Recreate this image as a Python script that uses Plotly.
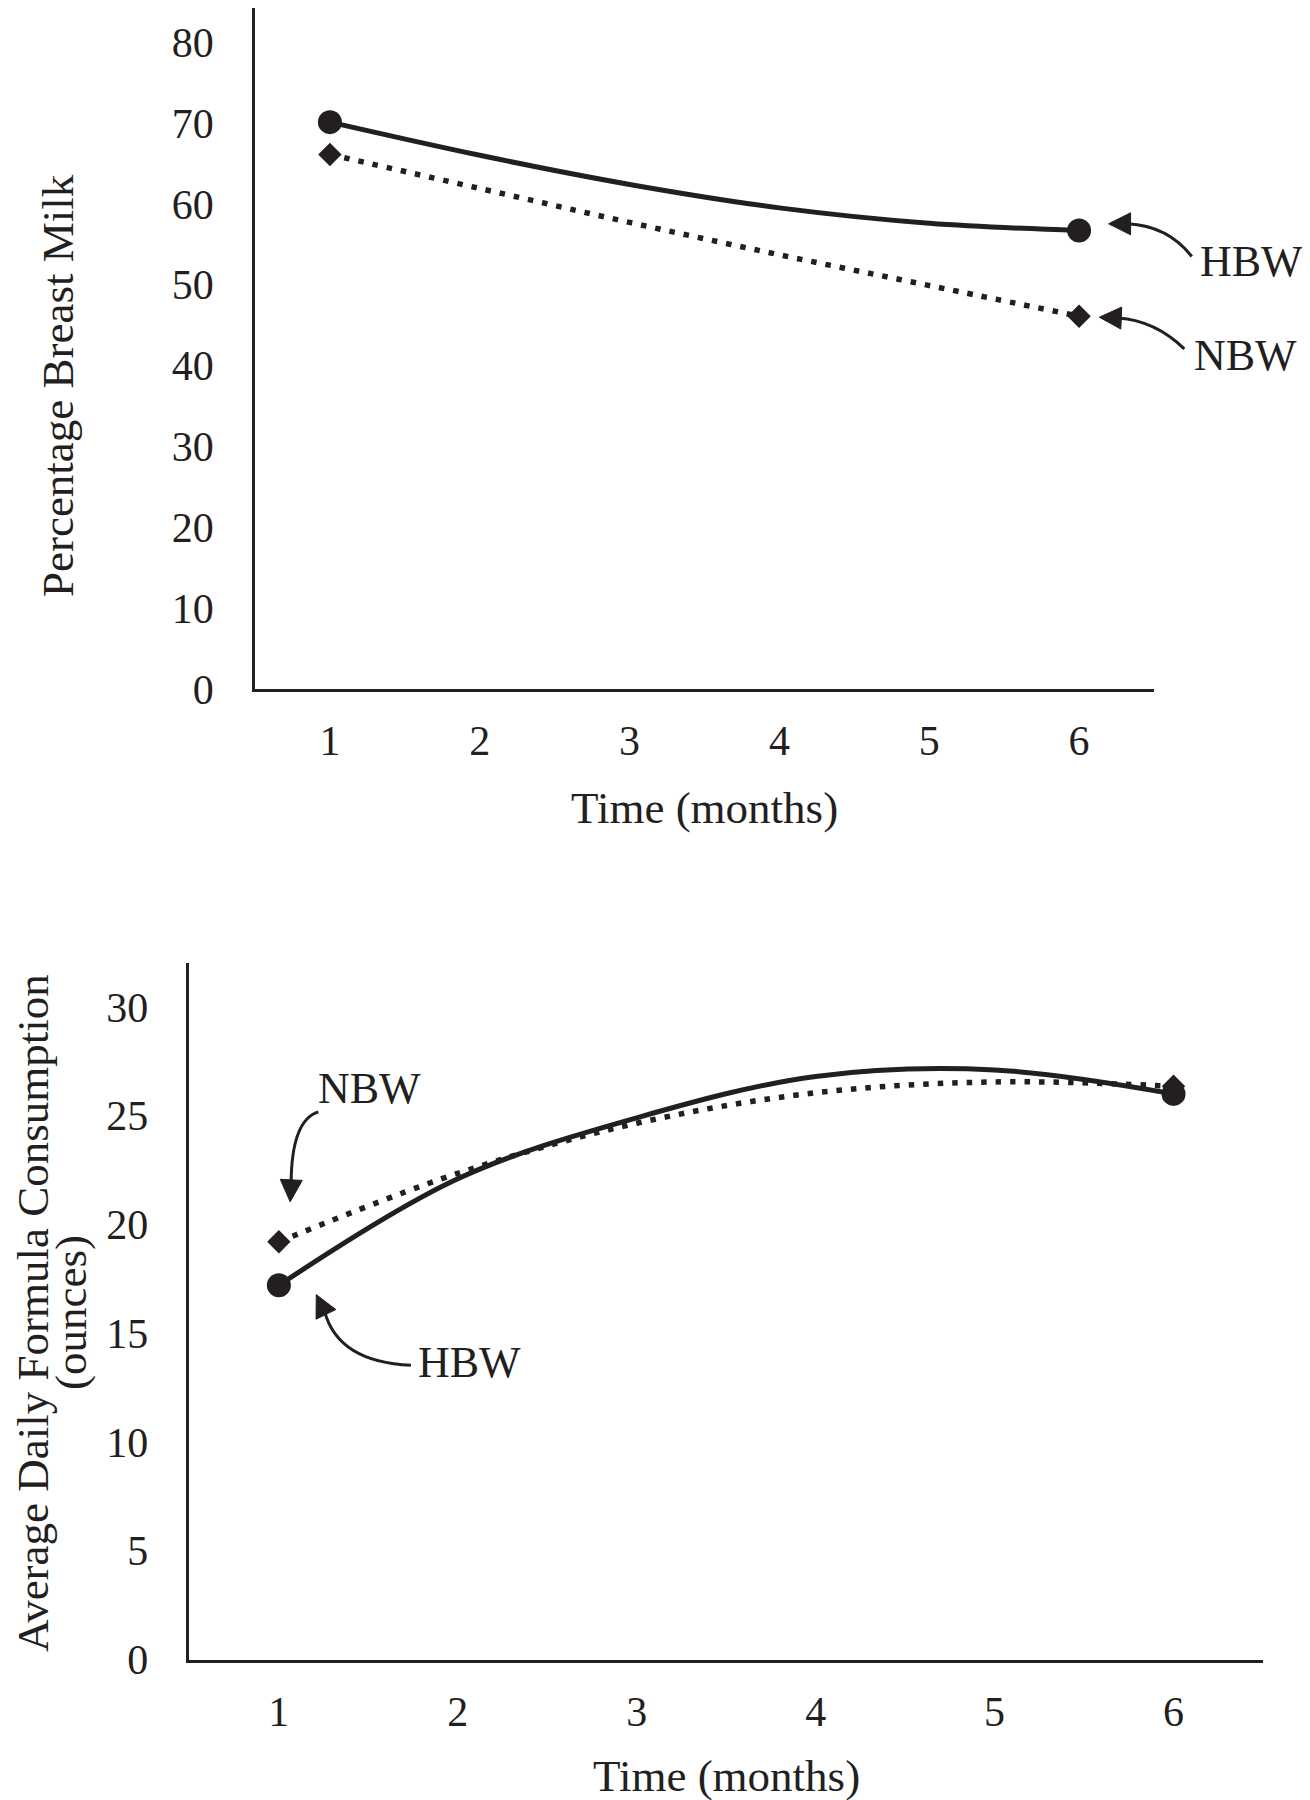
import math
import plotly.graph_objects as go

# ---------------- data ----------------
months = [1, 2, 3, 4, 5, 6]
month_labels = ["1", "2", "3", "4", "5", "6"]

# Panel A: Percentage Breast Milk
pct_hbw = [70.1, 66.0, 62.4, 59.5, 57.6, 56.7]
pct_nbw = [66.1, 61.9, 57.7, 53.7, 49.9, 46.1]
pct_ticks = [0, 10, 20, 30, 40, 50, 60, 70, 80]

# Panel B: Average Daily Formula Consumption (ounces)
formula_hbw = [17.2, 22.1, 24.9, 26.8, 27.1, 26.0]
formula_nbw = [19.2, 22.35, 24.65, 26.05, 26.55, 26.35]
formula_ticks = [0, 5, 10, 15, 20, 25, 30]

# ---------------- styling / geometry ----------------
REF_W, REF_H = 1310, 1800
CAP_H = 1824            # height of the captured page area
KY = CAP_H / REF_H
OFF = 8                 # default body margin of the html page
W = REF_W - 2 * OFF
H = CAP_H - OFF
INK = "#231f20"
FONT = "Liberation Serif, Times New Roman, serif"
TICK_SIZE = 42
TITLE_SIZE = 45
LABEL_SIZE = 44

# panel boxes in reference pixels
P1 = dict(l=255, r=1154, t=OFF, b=689, xr=(0.5, 6.5), yr=(0, 84.2))
P2 = dict(l=189.4, r=1263, t=963.3, b=1659.5, xr=(0.5, 6.5), yr=(0, 32))


def to_px(p, x, y):
    X = p["l"] + (x - p["xr"][0]) / (p["xr"][1] - p["xr"][0]) * (p["r"] - p["l"])
    Y = p["b"] - (y - p["yr"][0]) / (p["yr"][1] - p["yr"][0]) * (p["b"] - p["t"])
    return X, Y


def pp(X, Y):
    return (X - OFF) / W, 1 - (Y * KY - OFF) / H


fig = go.Figure()


def add_series(xa, ya, yvals, dash, width, symbol, msize, name):
    n = len(months)
    sizes = [msize] + [0] * (n - 2) + [msize]
    fig.add_trace(go.Scatter(
        x=months, y=yvals, xaxis=xa, yaxis=ya, name=name,
        mode="lines+markers",
        line=dict(color=INK, width=width, dash=dash, shape="spline", smoothing=1.0),
        marker=dict(color=INK, size=sizes, symbol=symbol, opacity=1,
                    line=dict(width=0)),
        showlegend=False, cliponaxis=False,
    ))


DOT = "5.5px,9px"
add_series("x", "y", pct_nbw, DOT, 5.5, "diamond", 18, "NBW")
add_series("x", "y", pct_hbw, "solid", 5, "circle", 24, "HBW")
add_series("x2", "y2", formula_nbw, DOT, 5.5, "diamond", 18, "NBW")
add_series("x2", "y2", formula_hbw, "solid", 5, "circle", 24, "HBW")

shapes = []
annotations = []


def curved_arrow(panel, x, y, tip, direction, ctrl, end, text, text_off,
                 head_len=22, head_w=22):
    ax, ay = to_px(panel, x, y)
    dx, dy = direction
    norm = math.hypot(dx, dy)
    dx, dy = dx / norm, dy / norm
    tx, ty = ax + tip[0], ay + tip[1]
    bx, by = tx - head_len * dx, ty - head_len * dy
    qx, qy = -dy, dx
    c1 = (bx + qx * head_w / 2, by + qy * head_w / 2)
    c2 = (bx - qx * head_w / 2, by - qy * head_w / 2)
    pts = [pp(tx, ty), pp(*c1), pp(*c2)]
    shapes.append(dict(
        type="path", xref="paper", yref="paper",
        path="M {:.5f},{:.5f} L {:.5f},{:.5f} L {:.5f},{:.5f} Z".format(
            pts[0][0], pts[0][1], pts[1][0], pts[1][1], pts[2][0], pts[2][1]),
        fillcolor=INK, line=dict(color=INK, width=1),
    ))
    sx, sy = tx - (head_len - 3) * dx, ty - (head_len - 3) * dy
    s = pp(sx, sy)
    c = pp(ax + ctrl[0], ay + ctrl[1])
    e = pp(ax + end[0], ay + end[1])
    shapes.append(dict(
        type="path", xref="paper", yref="paper",
        path="M {:.5f},{:.5f} Q {:.5f},{:.5f} {:.5f},{:.5f}".format(
            s[0], s[1], c[0], c[1], e[0], e[1]),
        line=dict(color=INK, width=3),
    ))
    lx, ly = pp(ax + text_off[0], ay + text_off[1])
    annotations.append(dict(
        x=lx, y=ly, xref="paper", yref="paper", text=text, showarrow=False,
        xanchor="center", yanchor="middle", borderpad=0,
        font=dict(family=FONT, size=LABEL_SIZE, color=INK),
    ))


# Panel A labels
curved_arrow(P1, months[-1], pct_hbw[-1], tip=(29.5, -6.7), direction=(-1, 0),
             ctrl=(88.7, -4.7), end=(112.7, 26), text="HBW", text_off=(172, 31))
curved_arrow(P1, months[-1], pct_nbw[-1], tip=(20.2, 1.0), direction=(-1, -0.04),
             ctrl=(76, 4.3), end=(105.2, 32.6), text="NBW", text_off=(166, 39.3))
# Panel B labels
curved_arrow(P2, months[0], formula_nbw[0], tip=(11.3, -40), direction=(-0.05, 1),
             ctrl=(12.7, -121.7), end=(39.5, -130), text="NBW", text_off=(90.4, -153.4))
curved_arrow(P2, months[0], formula_hbw[0], tip=(37.4, 9.3), direction=(-0.44, -0.9),
             ctrl=(59.7, 77), end=(132.1, 80), text="HBW", text_off=(191, 77.5))


# Axis titles as annotations
def title(X, Y, text, angle=0, yanchor="middle"):
    x, y = pp(X, Y)
    annotations.append(dict(
        x=x, y=y, xref="paper", yref="paper", text=text, showarrow=False,
        xanchor="center", yanchor=yanchor, textangle=angle, borderpad=0,
        font=dict(family=FONT, size=TITLE_SIZE, color=INK),
    ))


title((P1["l"] + P1["r"]) / 2, 808, "Time (months)")
title(58, 386, "Percentage Breast Milk", -90)
title((P2["l"] + P2["r"]) / 2, 1776, "Time (months)")
title(33, 1313, "Average Daily Formula Consumption", -90)
title(71, 1313, "(ounces)", -90)

tickfont = dict(family=FONT, size=TICK_SIZE, color=INK)


def xaxis(p, anchor):
    return dict(
        domain=[(p["l"] - OFF) / W, (p["r"] - OFF) / W], anchor=anchor,
        range=list(p["xr"]),
        tickmode="array", tickvals=months, ticktext=month_labels,
        showline=True, linecolor=INK, linewidth=2.5, showgrid=False,
        zeroline=False, ticks="", tickfont=tickfont, ticklabelstandoff=13,
        fixedrange=True,
    )


def yaxis(p, anchor, ticks):
    lo = pp(0, p["b"])[1]
    hi = min(1, pp(0, p["t"])[1])
    return dict(
        domain=[lo, hi], anchor=anchor, range=list(p["yr"]),
        tickmode="array", tickvals=ticks, ticktext=[str(t) for t in ticks],
        showline=True, linecolor=INK, linewidth=2.5, showgrid=False,
        zeroline=False, ticks="", tickfont=tickfont, ticklabelstandoff=30,
        fixedrange=True,
    )


fig.update_layout(
    width=W, height=H, autosize=False,
    margin=dict(l=0, r=0, t=0, b=0),
    paper_bgcolor="white", plot_bgcolor="white",
    xaxis=xaxis(P1, "y"), yaxis=yaxis(P1, "x", pct_ticks),
    xaxis2=xaxis(P2, "y2"), yaxis2=yaxis(P2, "x2", formula_ticks),
    shapes=shapes, annotations=annotations,
    font=dict(family=FONT, color=INK),
)

fig.write_html("out.html")
